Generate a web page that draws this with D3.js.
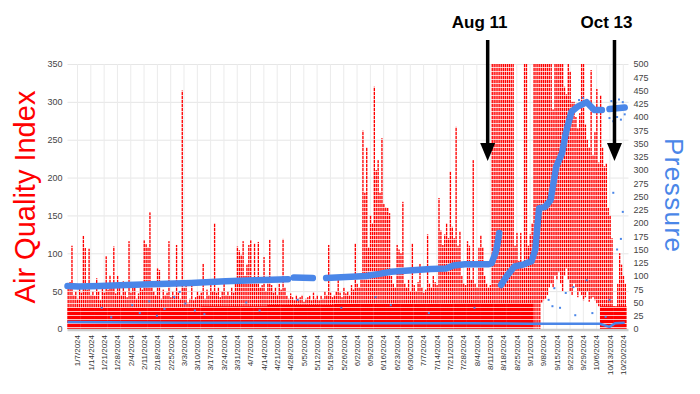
<!DOCTYPE html>
<html>
<head>
<meta charset="utf-8">
<script src="https://cdn.jsdelivr.net/npm/d3@7"></script>
<style>
  body { margin: 0; background: #fff; }
  svg text { font-family: "Liberation Sans", Arial, sans-serif; }
</style>
</head>
<body>
<div id="vis"></div>
<script>

// daily AQI maximum, starting 1/2/2024 (one row = one week)
const aqiStart = '2024-01-02';
const aqiHigh = [
  55, 62, 110, 45, 50, 40, 58,
  48, 123, 107, 52, 106, 45, 50,
  44, 67, 50, 38, 55, 48, 96,
  52, 71, 58, 109, 47, 70, 55,
  45, 63, 50, 42, 116, 48, 60,
  55, 40, 47, 62, 52, 117, 112,
  108, 154, 58, 50, 45, 80, 78,
  40, 52, 45, 48, 116, 42, 50,
  45, 111, 48, 40, 315, 55, 60,
  35, 40, 63, 38, 42, 50, 45,
  48, 86, 40, 52, 45, 58, 50,
  140, 48, 55, 42, 50, 60, 45,
  50, 44, 55, 48, 60, 109, 104,
  98, 116, 70, 85, 111, 117, 60,
  113, 62, 115, 55, 58, 95, 50,
  65, 118, 58, 48, 55, 45, 60,
  52, 119, 55, 44, 40, 47, 42,
  38, 45, 40, 42, 45, 36, 40,
  42, 44, 38, 48, 40, 45, 38,
  44, 40, 50, 45, 111, 48, 42,
  45, 50, 65, 48, 42, 55, 47,
  50, 45, 58, 52, 113, 60, 55,
  70, 262, 180, 240, 108, 150, 140,
  320, 210, 223, 180, 252, 165, 161,
  160, 153, 70, 60, 55, 111, 105,
  100, 168, 60, 55, 65, 50, 113,
  58, 50, 62, 86, 55, 48, 52,
  125, 60, 55, 70, 62, 58, 173,
  130, 111, 125, 140, 120, 208, 135,
  120, 267, 110, 129, 70, 60, 58,
  116, 110, 65, 223, 60, 55, 108,
  124, 108, 70, 60, 55, 58, 350,
  350, 350, 350, 350, 350, 350, 350,
  350, 350, 350, 350, 110, 127, 90,
  127, 80, 350, 350, 110, 125, 140,
  350, 350, 350, 350, 350, 350, 350,
  350, 350, 350, 290, 350, 350, 350,
  350, 350, 320, 310, 350, 340, 300,
  300, 280, 265, 285, 350, 350, 270,
  250, 240, 342, 230, 260, 317, 220,
  309, 240, 215, 219, 160, 150, 120,
  30, 25, 60, 100, 85, 70, 60
];

// daily AQI minimum in September (other days go down to 0)
const aqiLowStart = '2024-09-07';
const aqiLow = [
  35, 38, 40, 45, 55, 60, 55,
  70, 65, 75, 60, 50, 70, 80,
  65, 50, 45, 60, 55, 42, 50,
  45, 38, 42, 50, 36, 40, 42,
  38, 34, 30
];

// weekly level of the dense low AQI band (same weeks as the rows above)
const aqiFloor = [
  28, 28, 28, 28, 28, 28, 28, 28, 28, 28,
  30, 30, 30, 30, 30, 32, 32, 32, 32, 32,
  33, 33, 33, 33, 33, 33, 33, 33, 33, 34,
  34, 34, 34, 34, 34, 0, 0, 0, 0, 0,
  30, 30
];

// pressure (right axis), null = gap in the readings
const pressureDates = [
  '2024-01-02', '2024-01-08', '2024-01-19', '2024-02-02', '2024-02-19', '2024-03-07',
  '2024-03-25', '2024-04-09', '2024-04-27', '2024-04-28', '2024-04-30', '2024-05-10',
  '2024-05-12', '2024-05-17', '2024-06-07', '2024-06-14', '2024-06-20', '2024-07-11',
  '2024-07-19', '2024-07-23', '2024-07-29', '2024-08-10', '2024-08-12', '2024-08-14',
  '2024-08-15', '2024-08-16', '2024-08-16', '2024-08-17', '2024-08-20', '2024-08-24',
  '2024-08-29', '2024-09-02', '2024-09-04', '2024-09-05', '2024-09-06', '2024-09-09',
  '2024-09-12', '2024-09-15', '2024-09-18', '2024-09-20', '2024-09-23', '2024-09-26',
  '2024-10-01', '2024-10-05', '2024-10-09', '2024-10-10', '2024-10-13', '2024-10-21'
];
const pressureValues = [
  81, 80, 81, 83, 85, 87,
  90, 92, 94, null, 97, 96,
  null, 96, 100, 104, 108, 113,
  114, 120, 122, 122, 124, 143,
  158, 181, null, 83, 100, 118,
  122, 128, 150, 190, 228, 230,
  243, 306, 331, 369, 410, 419,
  428, 413, 413, null, 415, 418
];

// second, low pressure trace
const baseDates = ['2024-01-02', '2024-03-03', '2024-06-01', '2024-08-01', '2024-09-01',
  '2024-10-08', '2024-10-13', '2024-10-16', '2024-10-21'];
const baseValues = [13, 12, 11, 11, 10, 10, 4, 11, 12];

// stray pressure readings
const strayDates = ['2024-01-20', '2024-01-25', '2024-02-05', '2024-02-09', '2024-02-14',
  '2024-02-18', '2024-02-22', '2024-02-27', '2024-03-01', '2024-03-04', '2024-03-09',
  '2024-03-14', '2024-04-05', '2024-04-12', '2024-05-02', '2024-05-25', '2024-06-12',
  '2024-06-20', '2024-07-10', '2024-08-03', '2024-09-11', '2024-09-13', '2024-09-14',
  '2024-09-17', '2024-09-20', '2024-09-24', '2024-09-25', '2024-10-01', '2024-10-04',
  '2024-10-11', '2024-10-13', '2024-10-15', '2024-10-17', '2024-10-19', '2024-10-20',
  '2024-10-13', '2024-10-14', '2024-10-15', '2024-10-16', '2024-10-17', '2024-10-18',
  '2024-10-19', '2024-10-20', '2024-10-21', '2024-09-27', '2024-09-29', '2024-10-03'];
const strayValues = [40, 22, 45, 30, 52, 25, 38, 60, 70, 48, 35, 28, 50, 35, 55, 40, 60,
  45, 30, 40, 55, 43, 77, 40, 68, 79, 26, 92, 30, 23, 55, 257, 150, 170, 221,
  398, 430, 392, 427, 400, 433, 395, 428, 405, 432, 436, 425];

const annotationLabels = ['Aug 11', 'Oct 13'];
const annotationDates = ['2024-08-11', '2024-10-13'];

const parse = d3.timeParse('%Y-%m-%d');

const plotLeft = 67.5, plotRight = 628.5, plotTop = 64, plotBottom = 329;

const svg = d3.select('#vis')
  .append('svg')
  .attr('width', 700)
  .attr('height', 394);

// dotted look of the AQI readings
const tex = svg.append('defs').append('pattern')
  .attr('id', 'aqiTex')
  .attr('patternUnits', 'userSpaceOnUse')
  .attr('width', 4)
  .attr('height', 4);
tex.append('rect').attr('width', 4).attr('height', 4).attr('fill', '#ff0000');
tex.append('rect').attr('y', 3).attr('width', 4).attr('height', 1).attr('fill', '#ffffff').attr('opacity', 0.75);

// scales
const start = parse(aqiStart);
const end = d3.timeDay.offset(start, aqiHigh.length + 1);
const xScale = d3.scaleTime().domain([start, end]).range([plotLeft, plotRight]);
const yLeft = d3.scaleLinear().domain([0, 350]).range([plotBottom, plotTop]);
const yRight = d3.scaleLinear().domain([0, 500]).range([plotBottom, plotTop]);

const weeks = d3.timeWeek.range(parse('2024-01-07'), parse('2024-10-21'));

// grid
svg.append('g')
  .attr('transform', `translate(${plotLeft},0)`)
  .call(d3.axisLeft(yLeft).tickValues(d3.range(50, 351, 50)).tickSize(-(plotRight - plotLeft)).tickFormat(''))
  .call(g => g.select('.domain').remove())
  .selectAll('line').attr('stroke', '#e6e6e6');

svg.append('g')
  .attr('transform', `translate(0,${plotTop})`)
  .call(d3.axisBottom(xScale).tickValues(weeks).tickSize(plotBottom - plotTop).tickFormat(''))
  .call(g => g.select('.domain').remove())
  .selectAll('line').attr('stroke', '#ebebeb');

// dense low band, one block per week
const floor = aqiFloor.map((v, i) => ({date: d3.timeDay.offset(start, i * 7), v: v}));
svg.append('g')
  .selectAll('.floor')
  .data(floor)
  .join('rect')
  .attr('class', 'floor')
  .attr('x', d => xScale(d.date))
  .attr('width', d => xScale(d3.timeDay.offset(d.date, 7)) - xScale(d.date))
  .attr('y', d => yLeft(d.v))
  .attr('height', d => yLeft(0) - yLeft(d.v))
  .attr('fill', 'url(#aqiTex)');

// AQI columns, one per day
const days = d3.timeDay.range(start, d3.timeDay.offset(start, aqiHigh.length));
const lowOffset = d3.timeDay.count(start, parse(aqiLowStart));
const aqi = days.map((d, i) => ({
  date: d,
  high: aqiHigh[i],
  low: (i >= lowOffset && i < lowOffset + aqiLow.length) ? aqiLow[i - lowOffset] : 0
}));

svg.append('g')
  .selectAll('.aqi')
  .data(aqi)
  .join('rect')
  .attr('class', 'aqi')
  .attr('x', d => xScale(d.date))
  .attr('width', d => (xScale(d3.timeDay.offset(d.date, 1)) - xScale(d.date)) * 0.7)
  .attr('y', d => yLeft(d.high))
  .attr('height', d => yLeft(d.low) - yLeft(d.high))
  .attr('fill', 'url(#aqiTex)');

// baseline
svg.append('line')
  .attr('x1', plotLeft).attr('x2', plotRight)
  .attr('y1', plotBottom + 1).attr('y2', plotBottom + 1)
  .attr('stroke', '#cccccc')
  .attr('stroke-width', 2.5);

// pressure
const blue = '#4a86e8';
const pressure = pressureDates.map((d, i) => ({date: parse(d), v: pressureValues[i]}));
const base = baseDates.map((d, i) => ({date: parse(d), v: baseValues[i]}));
const stray = strayDates.map((d, i) => ({date: parse(d), v: strayValues[i]}));

const line = d3.line()
  .defined(d => d.v != null)
  .x(d => xScale(d.date))
  .y(d => yRight(d.v));

svg.append('g')
  .selectAll('.stray')
  .data(stray)
  .join('rect')
  .attr('class', 'stray')
  .attr('x', d => xScale(d.date) - 1)
  .attr('y', d => yRight(d.v) - 1)
  .attr('width', 2)
  .attr('height', 2)
  .attr('fill', blue);

svg.append('path')
  .datum(base)
  .attr('d', line)
  .attr('fill', 'none')
  .attr('stroke', blue)
  .attr('stroke-width', 2.5);

svg.append('path')
  .datum(pressure)
  .attr('d', line)
  .attr('fill', 'none')
  .attr('stroke', blue)
  .attr('stroke-width', 6.5)
  .attr('stroke-linejoin', 'round')
  .attr('stroke-linecap', 'round');

// axes
const leftAxis = svg.append('g')
  .attr('transform', `translate(${plotLeft},0)`)
  .call(d3.axisLeft(yLeft).tickValues(d3.range(0, 351, 50)).tickSize(0).tickPadding(5));
leftAxis.select('.domain').remove();
leftAxis.selectAll('text').attr('font-size', 9).attr('fill', '#444');

const rightAxis = svg.append('g')
  .attr('transform', `translate(${plotRight},0)`)
  .call(d3.axisRight(yRight).tickValues(d3.range(0, 501, 25)).tickSize(0).tickPadding(5));
rightAxis.select('.domain').remove();
rightAxis.selectAll('text').attr('font-size', 9).attr('fill', '#444');

const xAxis = svg.append('g')
  .attr('transform', `translate(0,${plotBottom})`)
  .call(d3.axisBottom(xScale).tickValues(weeks).tickSize(0).tickFormat(d3.timeFormat('%-m/%-d/%Y')));
xAxis.select('.domain').remove();
xAxis.selectAll('text')
  .attr('transform', 'rotate(-90)')
  .attr('x', -6)
  .attr('y', 0)
  .attr('dy', '0.35em')
  .attr('font-size', 8)
  .attr('fill', '#333')
  .style('text-anchor', 'end');

// axis titles
svg.append('text')
  .attr('transform', 'translate(35,197) rotate(-90)')
  .attr('text-anchor', 'middle')
  .attr('font-size', 29)
  .attr('fill', '#ff0000')
  .text('Air Quality Index');

svg.append('text')
  .attr('transform', 'translate(665,195) rotate(90)')
  .attr('text-anchor', 'middle')
  .attr('font-size', 26)
  .attr('textLength', 114)
  .attr('fill', blue)
  .text('Pressure');

// annotations
const arrowOffset = [-2, 5];
annotationLabels.forEach((label, i) => {
  const ax = xScale(parse(annotationDates[i])) + arrowOffset[i];
  svg.append('text')
    .attr('x', ax - 8)
    .attr('y', 28)
    .attr('text-anchor', 'middle')
    .attr('font-size', 17)
    .attr('font-weight', 'bold')
    .attr('fill', '#000')
    .text(label);
  svg.append('line')
    .attr('x1', ax).attr('x2', ax)
    .attr('y1', 40).attr('y2', 146)
    .attr('stroke', '#000')
    .attr('stroke-width', 3.5);
  svg.append('path')
    .attr('d', `M${ax - 7.5},143 L${ax + 7.5},143 L${ax},161 Z`)
    .attr('fill', '#000');
});

</script>
</body>
</html>
